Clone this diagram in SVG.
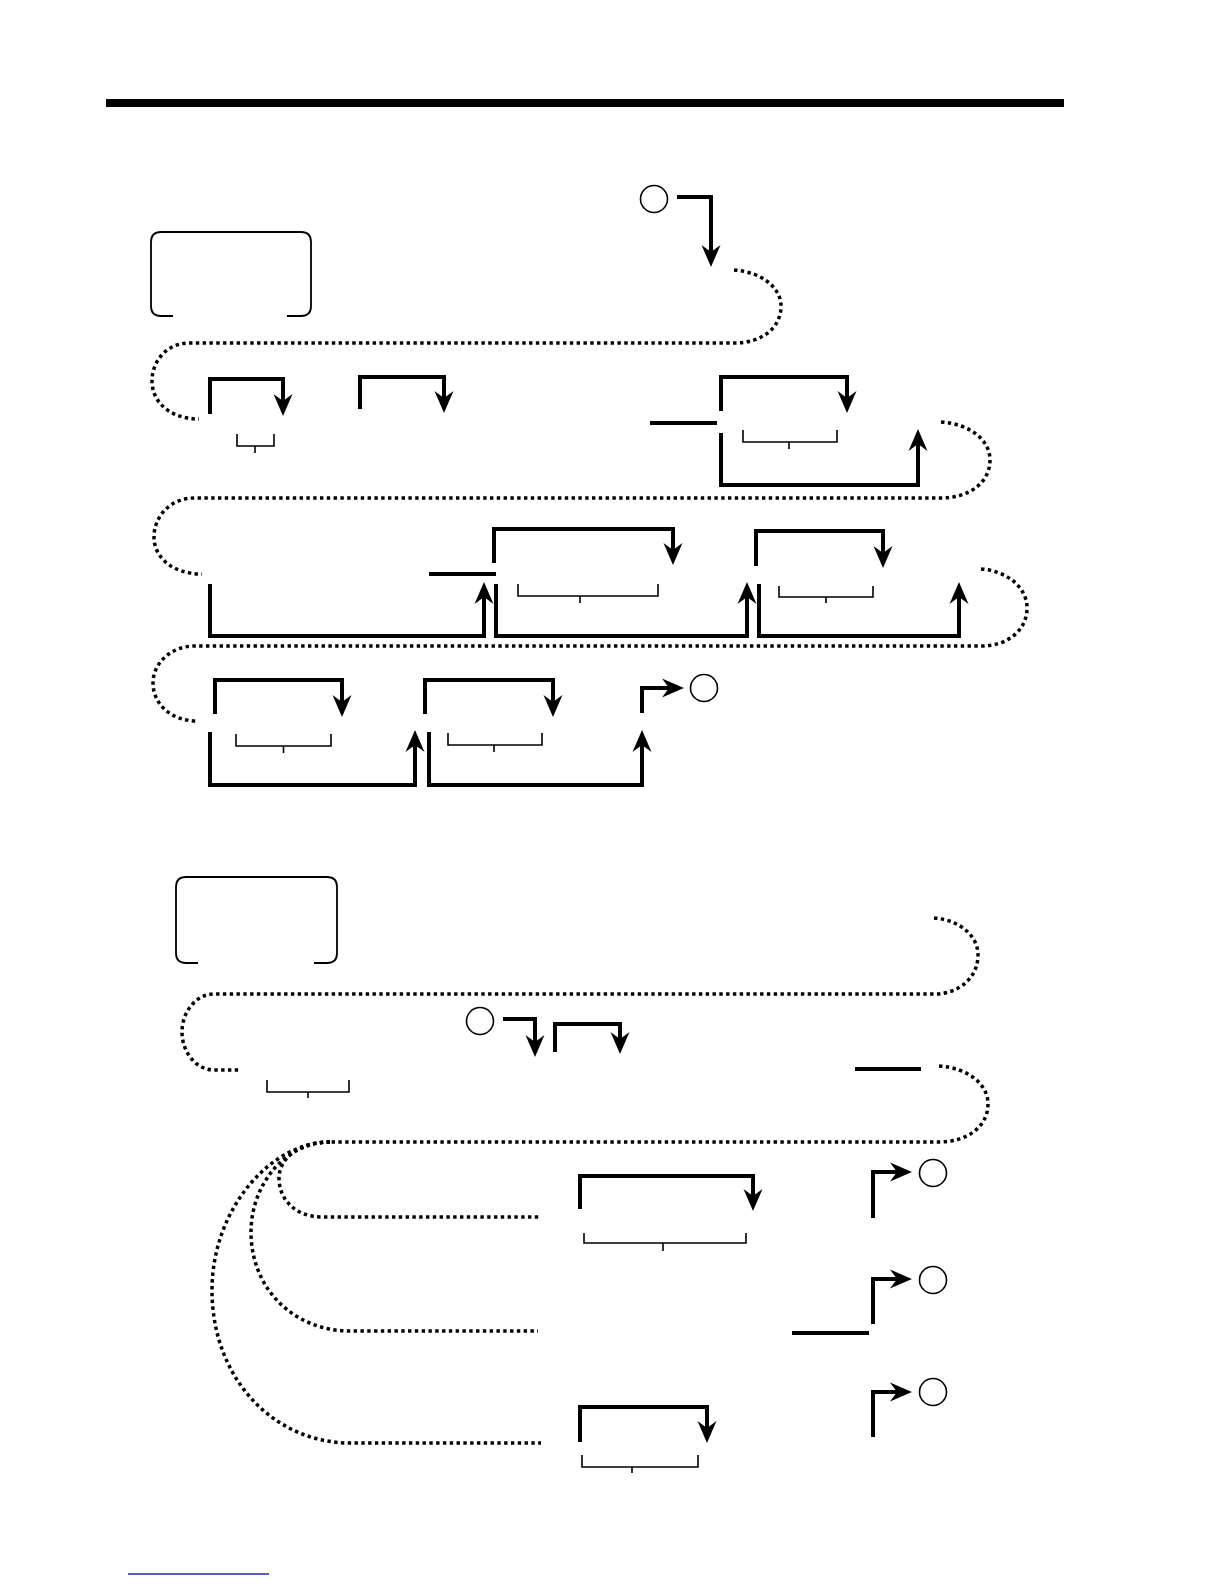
<svg xmlns="http://www.w3.org/2000/svg" width="1224" height="1584" viewBox="0 0 1224 1584">
<style>
.th{fill:none;stroke:#000;stroke-width:4;stroke-linejoin:miter}
.ar{marker-end:url(#ah)}
.dot{fill:none;stroke:#000;stroke-width:3.5;stroke-dasharray:3.4 3.4}
.br{fill:none;stroke:#000;stroke-width:1.6}
.box{fill:none;stroke:#000;stroke-width:1.8}
.cir{fill:#fff;stroke:#000;stroke-width:1.6}
.dash{stroke:#000;stroke-width:4}
</style>
<defs>
<marker id="ah" markerUnits="userSpaceOnUse" markerWidth="40" markerHeight="30" viewBox="-15 -15 40 30" refX="0" refY="0" orient="auto" overflow="visible">
<path d="M12,0 L-10,-9.5 L-3,0 L-10,9.5 Z" fill="#000"/>
</marker>
</defs>
<rect width="1224" height="1584" fill="#fff"/>
<g id="topbar"><line x1="106" y1="103" x2="1064" y2="103" stroke="#000" stroke-width="8"/></g>

<g id="box1"><path class="box" d="M173 316 H161 Q151 316 151 306 V242 Q151 232 161 232 H301 Q311 232 311 242 V306 Q311 316 301 316 H287"/></g>
<g id="box2"><path class="box" d="M198 963 H186 Q176 963 176 953 V887 Q176 877 186 877 H327 Q337 877 337 887 V953 Q337 963 327 963 H314"/></g>

<g id="circle1"><circle class="cir" cx="654" cy="199" r="13.5"/></g>
<g id="circle2"><circle class="cir" cx="704" cy="688" r="13.5"/></g>
<g id="circle3"><circle class="cir" cx="480" cy="1021" r="13.5"/></g>
<g id="circle4"><circle class="cir" cx="933" cy="1173" r="13.5"/></g>
<g id="circle5"><circle class="cir" cx="933" cy="1280" r="13.5"/></g>
<g id="circle6"><circle class="cir" cx="933" cy="1392" r="13.5"/></g>

<g id="braces">
<path class="br" d="M237 434 V446 H274 V434 M255 446 V453"/>
<path class="br" d="M743 430 V442 H837 V430 M789 442 V449"/>
<path class="br" d="M518 584 V596 H658 V584 M580 596 V603"/>
<path class="br" d="M779 586 V597 H873 V586 M826 597 V603"/>
<path class="br" d="M236 734 V746 H331 V734 M283.5 746 V753"/>
<path class="br" d="M448 733 V745 H542 V733 M494 745 V752"/>
<path class="br" d="M267 1080 V1092 H349 V1080 M308 1092 V1098"/>
<path class="br" d="M584 1233 V1243 H746 V1233 M663 1243 V1251"/>
<path class="br" d="M582 1455 V1467 H698 V1455 M632 1467 V1473"/>
</g>

<g id="connectors">
<!-- section 1 -->
<path class="th ar" d="M677 197 H711 V255"/>
<path class="dot" d="M734 270 C762 272 781 288 781 306 C781 328 762 343 734 343 H189 C168 343 152 360 152 381 C152 402 170 419 199 419"/>
<path class="th ar" d="M210 414 V379 H283 V404"/>
<path class="th ar" d="M360 409 V377 H444 V401"/>
<line class="dash" x1="650" y1="423" x2="717" y2="423"/>
<path class="th ar" d="M721 411 V377 H847 V401"/>
<path class="th ar" d="M721 433 V485 H918 V441"/>
<path class="dot" d="M941 422 C970 424 990 440 990 460 C990 482 970 498 941 498 H194 C171 498 154 516 154 537 C154 557 172 574 202 574"/>
<path class="th ar" d="M210 584 V636 H484 V594"/>
<line class="dash" x1="429" y1="574" x2="496" y2="574"/>
<path class="th ar" d="M494 563 V529 H673 V553"/>
<path class="th ar" d="M496 584 V636 H747 V594"/>
<path class="th ar" d="M756 566 V531 H883 V556"/>
<path class="th ar" d="M759 584 V636 H959 V594"/>
<path class="dot" d="M981 569 C1008 571 1027 588 1027 608 C1027 630 1008 646 981 646 H195 C171 646 153 663 153 683 C153 703 170 721 197 721"/>
<path class="th ar" d="M215 714 V680 H342 V705"/>
<path class="th ar" d="M210 732 V785 H415 V742"/>
<path class="th ar" d="M425 714 V680 H553 V705"/>
<path class="th ar" d="M429 732 V785 H642 V742"/>
<path class="th ar" d="M642 713 V688 H672"/>
<!-- section 2 -->
<path class="dot" d="M934 918 C960 920 978 936 978 955 C978 977 960 994 934 994 H214 C196 994 182 1012 182 1032 C182 1052 196 1070 214 1070 H240"/>
<path class="th ar" d="M503 1019 H535 V1045"/>
<path class="th ar" d="M555 1052 V1024 H620 V1042"/>
<line class="dash" x1="855" y1="1069" x2="921" y2="1069"/>
<path class="dot" d="M939 1066 C968 1068 988 1084 988 1104 C988 1126 968 1142 939 1142 H330"/>
<path class="dot" d="M330 1142 C300 1142 279 1158 279 1178 C279 1200 296 1217 322 1217 H540"/>
<path class="dot" d="M330 1142 C285 1142 251 1185 251 1232 C251 1290 295 1331 350 1331 H538"/>
<path class="dot" d="M330 1142 C270 1142 212 1210 212 1290 C212 1380 275 1443 350 1443 H541"/>
<path class="th ar" d="M580 1209 V1176 H753 V1199"/>
<path class="th ar" d="M873 1218 V1172 H900"/>
<path class="th ar" d="M873 1324 V1279 H900"/>
<line class="dash" x1="792" y1="1333" x2="869" y2="1333"/>
<path class="th ar" d="M873 1437 V1392 H900"/>
<path class="th ar" d="M580 1442 V1407 H707 V1431"/>
</g>

<g id="footer"><line x1="128" y1="1574" x2="269" y2="1574" stroke="#1f2b9e" stroke-width="1.5"/></g>
</svg>
